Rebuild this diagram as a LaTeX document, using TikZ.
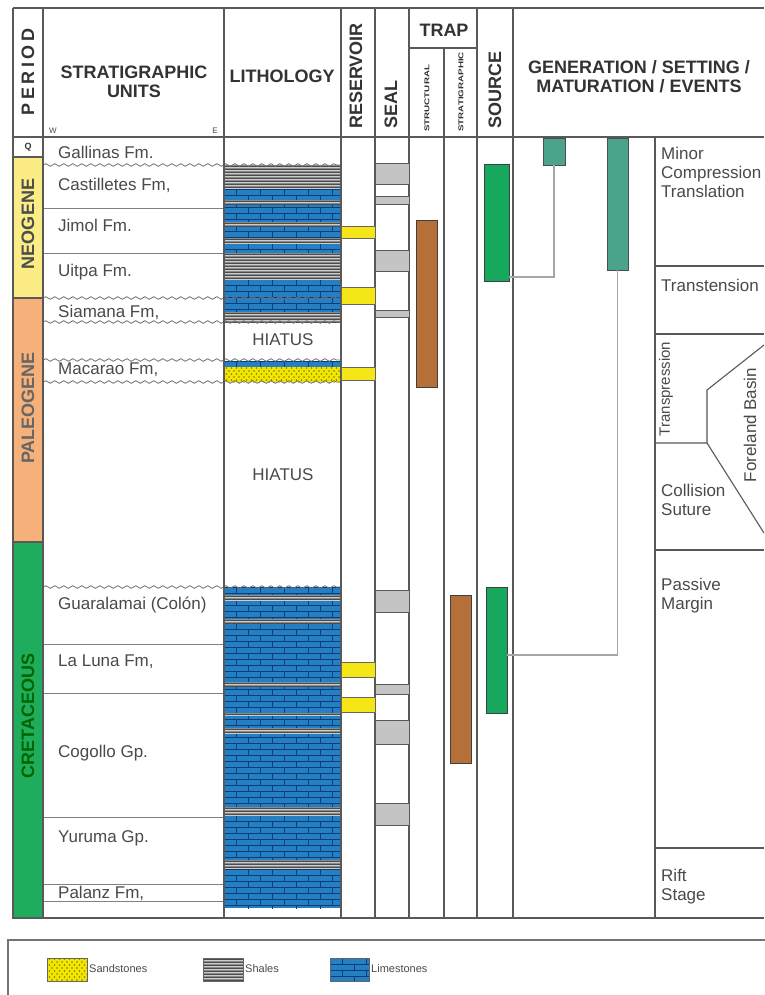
\documentclass[tikz,border=0pt]{standalone}
\usepackage{fontspec}
\setmainfont{Liberation Sans}
\usetikzlibrary{decorations.pathmorphing}
\definecolor{neogene}{HTML}{FBEC86}
\definecolor{paleogene}{HTML}{F6B07A}
\definecolor{cretaceous}{HTML}{1FAC5C}
\definecolor{limeblue}{HTML}{2580C3}
\definecolor{brickblue}{HTML}{0B3D78}
\definecolor{shalegray}{HTML}{8A8A8A}
\definecolor{sandyellow}{HTML}{F2E600}
\definecolor{resyellow}{HTML}{F5E617}
\definecolor{sealgray}{HTML}{C4C4C4}
\definecolor{trapbrown}{HTML}{B5703A}
\definecolor{srcgreen}{HTML}{16A85C}
\definecolor{genteal}{HTML}{4AA38A}
\definecolor{hdrtext}{HTML}{333333}
\definecolor{unittext}{HTML}{4A4A4A}
\tikzset{
  tabline/.style  = {draw=black!65, line width=1.1pt},
  thinline/.style = {draw=black!50, line width=0.9pt},
  wavy/.style     = {draw=black!55, line width=0.8pt, decorate,
                     decoration={snake, amplitude=1.3pt, segment length=9pt}},
  hdr/.style      = {font=\fontsize{18}{20}\selectfont\bfseries, text=hdrtext,
                     inner sep=0pt, align=center},
  hdrtiny/.style  = {font=\fontsize{7}{7}\selectfont\bfseries, text=hdrtext,
                     inner sep=0pt, rotate=90, anchor=west},
  per/.style      = {font=\fontsize{18}{20}\selectfont\bfseries, inner sep=0pt, rotate=90},
  unitlbl/.style  = {font=\fontsize{17}{20}\selectfont, text=unittext, anchor=west, inner sep=0pt},
  evt/.style      = {font=\fontsize{17}{19}\selectfont, text=unittext, align=left,
                     anchor=north west, inner sep=0pt},
  legtxt/.style   = {font=\fontsize{11}{13}\selectfont, text=unittext, anchor=west, inner sep=0pt},
  barbox/.style   = {anchor=north west, inner sep=0pt, outer sep=0pt, line width=0.9pt},
  resbar/.style   = {barbox, fill=resyellow, draw=black!60, minimum width=34pt},
  sealbar/.style  = {barbox, fill=sealgray, draw=black!65, minimum width=34pt},
  trapbar/.style  = {barbox, fill=trapbrown, draw=black!75, minimum width=21pt},
  srcbar/.style   = {barbox, fill=srcgreen, draw=black!75},
  genbar/.style   = {barbox, fill=genteal, draw=black!70},
  genlink/.style  = {draw=black!35, line width=1.6pt},
}
% lithology fills: x1 y1 x2 y2
\newcommand\limefill[4]{%
  \begin{scope}
    \clip (#1,#2) rectangle (#3,#4);
    \fill[limeblue] (#1,#2) rectangle (#3,#4);
    \foreach \yy [count=\k] in {0,6,...,330}{
      \draw[brickblue, line width=0.6pt] (#1,{#2+\yy}) -- (#3,{#2+\yy});
      \pgfmathsetmacro\off{mod(\k,2)*12}
      \foreach \xx in {0,24,...,120}
        \draw[brickblue, line width=0.6pt] ({#1+\off+\xx},{#2+\yy}) -- ++(0,6);
    }
  \end{scope}}
\newcommand\shalefill[4]{%
  \begin{scope}
    \clip (#1,#2) rectangle (#3,#4);
    \fill[shalegray] (#1,#2) rectangle (#3,#4);
    \foreach \yy in {1,4,...,40}{
      \draw[black!70, line width=0.7pt] (#1,{#2+\yy}) -- (#3,{#2+\yy});
      \draw[black!20, line width=0.5pt] (#1,{#2+\yy+1.5}) -- (#3,{#2+\yy+1.5});
    }
  \end{scope}}
\newcommand\sandfill[4]{%
  \begin{scope}
    \clip (#1,#2) rectangle (#3,#4);
    \fill[sandyellow] (#1,#2) rectangle (#3,#4);
    \foreach \yy [count=\k] in {1,4,...,40}{
      \pgfmathsetmacro\off{mod(\k,2)*2.5}
      \foreach \xx in {0,5,...,130}
        \fill[black!45!sandyellow] ({#1+\off+\xx},{#2+\yy}) circle (0.8pt);
    }
  \end{scope}}

\begin{document}
\begin{tikzpicture}[x=1pt,y=-1pt]
\useasboundingbox (0,0) rectangle (764,995);
\fill[white] (0,0) rectangle (764,995);

% period bands
\fill[neogene] (13,157) rectangle (43,298);
\fill[paleogene] (13,298) rectangle (43,542);
\fill[cretaceous] (13,542) rectangle (43,918);

% lithology column
\limefill{224}{165}{340}{322}
\shalefill{224}{165}{340}{189}
\shalefill{224}{200}{340}{204}
\shalefill{224}{222}{340}{226}
\shalefill{224}{238}{340}{243}
\shalefill{224}{253}{340}{280}
\shalefill{224}{312}{340}{322}
\limefill{224}{361}{340}{367}
\sandfill{224}{367}{340}{382}
\limefill{224}{587}{340}{908}
\shalefill{224}{595}{340}{600}
\shalefill{224}{619}{340}{623}
\shalefill{224}{682}{340}{686}
\shalefill{224}{713}{340}{716}
\shalefill{224}{728}{340}{733}
\shalefill{224}{807}{340}{815}
\shalefill{224}{860}{340}{869}

% unit boundaries
\foreach \sy in {208,253,644,693,817,884,901}
  \draw[thinline] (43,\sy) -- (224,\sy);
\foreach \wy in {165,298,322,360,382,587}
  \draw[wavy] (43,\wy) -- (341,\wy);

% table frame
\draw[tabline] (13,8) -- (764,8);
\draw[tabline] (13,8) -- (13,918) -- (764,918);
\draw[tabline, line width=2.2pt] (13,137) -- (764,137);
\foreach \cx in {43,224,341,375,409,477,513}
  \draw[tabline] (\cx,8) -- (\cx,918);
\draw[tabline] (409,48) -- (477,48);
\draw[tabline] (444,48) -- (444,918);
\draw[tabline] (655,137) -- (655,918);
\foreach \py in {157,298,542}
  \draw[tabline] (13,\py) -- (43,\py);
\foreach \ey in {266,334,550,848}
  \draw[tabline] (655,\ey) -- (764,\ey);
\draw[tabline] (655,443) -- (707,443) -- (707,390) -- (764,345);
\draw[tabline] (707,443) -- (764,533);

% reservoir
\node[resbar, minimum height=12pt] (res1) at (341,226) {};
\node[resbar, minimum height=17pt] (res2) at (341,287) {};
\node[resbar, minimum height=13pt] (res3) at (341,367) {};
\node[resbar, minimum height=15pt] (res4) at (341,662) {};
\node[resbar, minimum height=15pt] (res5) at (341,697) {};
% seal
\node[sealbar, minimum height=21pt] (seal1) at (375,163) {};
\node[sealbar, minimum height=8pt] (seal2) at (375,196) {};
\node[sealbar, minimum height=21pt] (seal3) at (375,250) {};
\node[sealbar, minimum height=7pt] (seal4) at (375,310) {};
\node[sealbar, minimum height=22pt] (seal5) at (375,590) {};
\node[sealbar, minimum height=10pt] (seal6) at (375,684) {};
\node[sealbar, minimum height=24pt] (seal7) at (375,720) {};
\node[sealbar, minimum height=22pt] (seal8) at (375,803) {};
% trap
\node[trapbar, minimum height=167pt] (trapst) at (416,220) {};
\node[trapbar, minimum height=168pt] (trapsg) at (450,595) {};
% source
\node[srcbar, minimum width=25pt, minimum height=117pt] (src1) at (484,164) {};
\node[srcbar, minimum width=21pt, minimum height=126pt] (src2) at (486,587) {};
% generation
\node[genbar, minimum width=22pt, minimum height=27pt] (gen1) at (543,138) {};
\node[genbar, minimum width=21pt, minimum height=132pt] (gen2) at (607,138) {};
\draw[genlink] (gen1.south) |- ([yshift=4pt]src1.south east);
\draw[genlink] (gen2.south) |- ([yshift=-5pt]src2.east);

% header
\node[hdr, rotate=90] (hperiod) at (28,72) {P\kern3.5pt E\kern3.5pt R\kern3.5pt I\kern3.5pt O\kern3.5pt D};
\node[hdr] (hstrat) at (134,82) {STRATIGRAPHIC\\[-1pt]UNITS};
\node[font=\fontsize{8}{8}\selectfont, text=unittext, inner sep=0pt] (hw) at (53,131) {W};
\node[font=\fontsize{8}{8}\selectfont, text=unittext, inner sep=0pt] (he) at (215,131) {E};
\node[hdr] (hlith) at (282,76) {LITHOLOGY};
\node[hdr, rotate=90] (hres) at (356,76) {RESERVOIR};
\node[hdr, rotate=90, anchor=west] (hseal) at (391,129) {SEAL};
\node[hdr] (htrap) at (444,30) {TRAP};
\node[hdrtiny] (hstruct) at (427,132) {\scalebox{1.4}[1]{STRUCTURAL}};
\node[hdrtiny] (hstratig) at (461,132) {\scalebox{1.4}[1]{STRATIGRAPHIC}};
\node[hdr, rotate=90, anchor=west] (hsrc) at (495,129) {SOURCE};
\node[hdr] (hgen) at (639,77) {GENERATION / SETTING /\\[-1pt]MATURATION / EVENTS};

% periods
\node[font=\fontsize{9}{9}\selectfont\bfseries, text=hdrtext, inner sep=0pt] (pq) at (28,147) {Q};
\node[per, text=black!70] (pneo) at (28,224) {NEOGENE};
\node[per, text=black!60] (ppaleo) at (28,408) {PALEOGENE};
\node[per, text=green!40!black] (pcret) at (28,716) {CRETACEOUS};

% stratigraphic units
\node[unitlbl] (u1) at (58,152) {Gallinas Fm.};
\node[unitlbl] (u2) at (58,185) {Castilletes Fm,};
\node[unitlbl] (u3) at (58,225) {Jimol Fm.};
\node[unitlbl] (u4) at (58,272) {Uitpa Fm.};
\node[unitlbl] (u5) at (58,312) {Siamana Fm,};
\node[unitlbl] (u6) at (58,370) {Macarao Fm,};
\node[unitlbl] (u7) at (58,605) {Guaralamai (Colón)};
\node[unitlbl] (u8) at (58,662) {La Luna Fm,};
\node[unitlbl] (u9) at (58,753) {Cogollo Gp.};
\node[unitlbl] (u10) at (58,838) {Yuruma Gp.};
\node[unitlbl] (u11) at (58,893) {Palanz Fm,};
\node[unitlbl, anchor=center] (hiat1) at (283,340) {HIATUS};
\node[unitlbl, anchor=center] (hiat2) at (283,475) {HIATUS};

% events
\node[evt] (ev1) at (661,147) {Minor\\Compression\\Translation};
\node[evt, anchor=west] (ev2) at (661,285) {Transtension};
\node[evt, font=\fontsize{15}{17}\selectfont, rotate=90, anchor=center] (ev3) at (666,389) {Transpression};
\node[evt, rotate=90, anchor=center] (ev4) at (750,425) {Foreland Basin};
\node[evt] (ev5) at (661,484) {Collision\\Suture};
\node[evt] (ev6) at (661,578) {Passive\\Margin};
\node[evt] (ev7) at (661,869) {Rift\\Stage};

% legend
\draw[tabline, draw=black!55] (8,996) -- (8,940) -- (765,940);
\sandfill{47}{958}{87}{981}
\draw[black!60, line width=0.6pt] (47,958) rectangle (87,981);
\shalefill{203}{958}{243}{981}
\draw[black!60, line width=0.6pt] (203,958) rectangle (243,981);
\limefill{330}{958}{369}{981}
\draw[black!60, line width=0.6pt] (330,958) rectangle (369,981);
\node[legtxt] (lsand) at (89,969) {Sandstones};
\node[legtxt] (lshale) at (245,969) {Shales};
\node[legtxt] (llime) at (371,969) {Limestones};
\end{tikzpicture}
\end{document}
